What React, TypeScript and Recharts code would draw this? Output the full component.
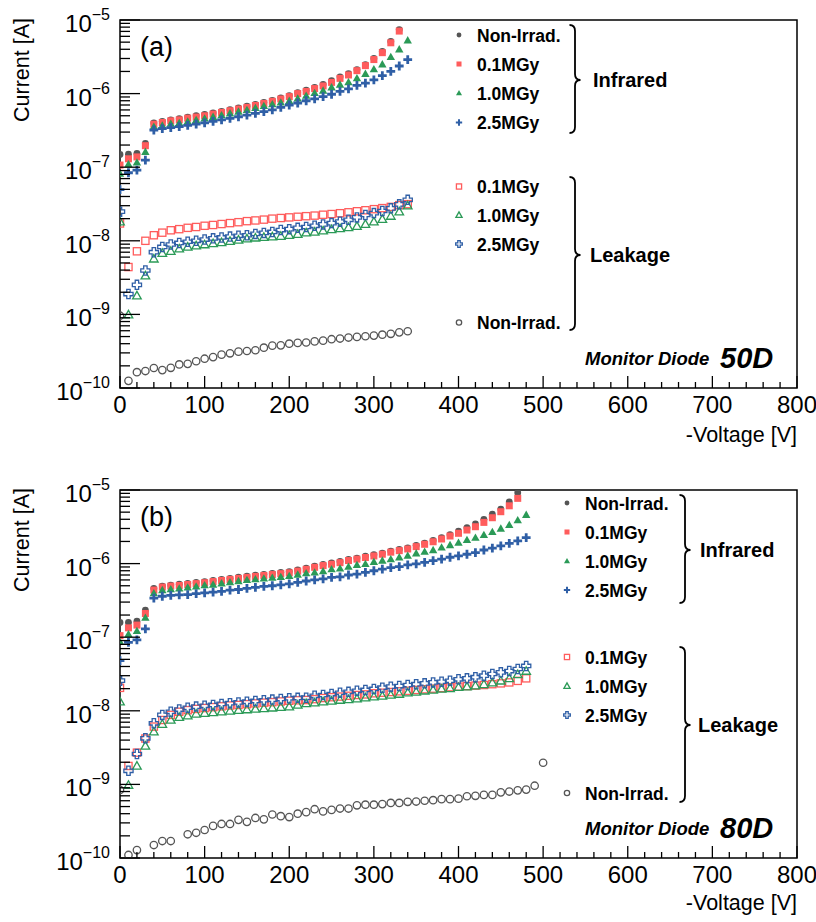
import React from 'react';
import { ScatterChart, Scatter, XAxis, YAxis, ReferenceArea } from 'recharts';

// ---------- voltages ----------
const V_0_330 = [0,10,20,30,40,50,60,70,80,90,100,110,120,130,140,150,160,170,180,190,200,210,220,230,240,250,260,270,280,290,300,310,320,330];
const V_0_340 = [0,10,20,30,40,50,60,70,80,90,100,110,120,130,140,150,160,170,180,190,200,210,220,230,240,250,260,270,280,290,300,310,320,330,340];
const V_0_470 = [0,10,20,30,40,50,60,70,80,90,100,110,120,130,140,150,160,170,180,190,200,210,220,230,240,250,260,270,280,290,300,310,320,330,340,350,360,370,380,390,400,410,420,430,440,450,460,470];
const V_0_480 = [0,10,20,30,40,50,60,70,80,90,100,110,120,130,140,150,160,170,180,190,200,210,220,230,240,250,260,270,280,290,300,310,320,330,340,350,360,370,380,390,400,410,420,430,440,450,460,470,480];
const V_B_LEAK_NONIRR = [0,10,20,40,50,60,80,90,100,110,120,130,140,150,160,170,180,190,200,210,220,230,240,250,260,270,280,290,300,310,320,330,340,350,360,370,380,390,400,410,420,430,440,450,460,470,480,490,500];

// ---------- (a) 50D ----------
const A_IR_NONIRR = [
  1.49e-7,1.5e-7,1.54e-7,2.1e-7,4.0e-7,4.2e-7,4.4e-7,4.55e-7,4.8e-7,5.0e-7,
  5.2e-7,5.45e-7,5.75e-7,6.05e-7,6.4e-7,6.75e-7,7.15e-7,7.6e-7,8.1e-7,8.75e-7,
  9.4e-7,1.03e-6,1.11e-6,1.21e-6,1.33e-6,1.5e-6,1.69e-6,1.86e-6,2.12e-6,2.48e-6,
  3.0e-6,3.75e-6,5.1e-6,7.4e-6];
const A_IR_01 = [
  1.07e-7,1.3e-7,1.38e-7,1.96e-7,3.84e-7,4.05e-7,4.27e-7,4.4e-7,4.64e-7,4.8e-7,
  5.0e-7,5.27e-7,5.55e-7,5.85e-7,6.17e-7,6.5e-7,6.9e-7,7.35e-7,7.85e-7,8.45e-7,
  9.1e-7,1.0e-6,1.07e-6,1.17e-6,1.27e-6,1.42e-6,1.61e-6,1.79e-6,2.05e-6,2.4e-6,
  2.9e-6,3.6e-6,4.9e-6,7.07e-6];
const A_IR_10 = [
  8.2e-8,1.1e-7,1.16e-7,1.62e-7,3.55e-7,3.7e-7,3.9e-7,4.0e-7,4.2e-7,4.4e-7,
  4.6e-7,4.85e-7,5.1e-7,5.4e-7,5.7e-7,6.0e-7,6.4e-7,6.8e-7,7.2e-7,7.6e-7,
  8.0e-7,8.6e-7,9.4e-7,1.02e-6,1.1e-6,1.22e-6,1.33e-6,1.43e-6,1.62e-6,1.86e-6,
  2.15e-6,2.5e-6,3.15e-6,4.0e-6,5.3e-6];
const A_IR_25 = [
  4.95e-8,8.4e-8,9.1e-8,1.25e-7,3.2e-7,3.35e-7,3.45e-7,3.55e-7,3.7e-7,3.85e-7,
  4.0e-7,4.2e-7,4.4e-7,4.6e-7,4.85e-7,5.1e-7,5.4e-7,5.7e-7,6.0e-7,6.5e-7,
  7.0e-7,7.45e-7,8.0e-7,8.5e-7,9.1e-7,9.8e-7,1.07e-6,1.16e-6,1.29e-6,1.39e-6,
  1.54e-6,1.75e-6,2.0e-6,2.37e-6,2.9e-6];
const A_LK_01 = [
  1.72e-8,4.4e-9,7.2e-9,1.0e-8,1.19e-8,1.29e-8,1.39e-8,1.44e-8,1.5e-8,1.54e-8,
  1.6e-8,1.64e-8,1.69e-8,1.74e-8,1.79e-8,1.85e-8,1.89e-8,1.94e-8,2.0e-8,2.04e-8,
  2.08e-8,2.12e-8,2.16e-8,2.2e-8,2.26e-8,2.31e-8,2.37e-8,2.44e-8,2.52e-8,2.6e-8,
  2.69e-8,2.78e-8,2.89e-8,3.05e-8,3.15e-8];
const A_LK_10 = [
  1.82e-8,9.9e-10,1.8e-9,3.36e-9,5.7e-9,6.8e-9,7.25e-9,7.8e-9,8.25e-9,8.6e-9,
  8.9e-9,9.2e-9,9.5e-9,9.9e-9,1.03e-8,1.07e-8,1.1e-8,1.12e-8,1.14e-8,1.16e-8,
  1.19e-8,1.23e-8,1.29e-8,1.32e-8,1.37e-8,1.43e-8,1.47e-8,1.52e-8,1.58e-8,1.68e-8,
  1.82e-8,1.97e-8,2.17e-8,2.49e-8,3.0e-8];
const A_LK_25 = [
  2.49e-8,1.89e-9,2.52e-9,3.95e-9,7.0e-9,8.25e-9,8.9e-9,9.35e-9,9.7e-9,1.0e-8,
  1.04e-8,1.08e-8,1.11e-8,1.14e-8,1.17e-8,1.19e-8,1.24e-8,1.28e-8,1.32e-8,1.4e-8,
  1.44e-8,1.5e-8,1.54e-8,1.6e-8,1.67e-8,1.74e-8,1.82e-8,1.93e-8,2.08e-8,2.24e-8,
  2.38e-8,2.54e-8,2.76e-8,3.13e-8,3.6e-8];
const A_LK_NONIRR = [
  9.6e-10,1.25e-10,1.64e-10,1.7e-10,1.87e-10,1.75e-10,1.88e-10,2.09e-10,2.13e-10,2.31e-10,
  2.5e-10,2.63e-10,2.84e-10,2.96e-10,3.12e-10,3.18e-10,3.26e-10,3.53e-10,3.76e-10,3.8e-10,
  4.0e-10,4.1e-10,4.15e-10,4.3e-10,4.4e-10,4.6e-10,4.7e-10,4.85e-10,4.95e-10,5.05e-10,
  5.15e-10,5.3e-10,5.45e-10,5.7e-10,5.9e-10];

// ---------- (b) 80D ----------
const B_IR_NONIRR = [
  1.59e-7,1.59e-7,1.65e-7,2.34e-7,4.6e-7,4.95e-7,5.1e-7,5.25e-7,5.4e-7,5.55e-7,
  5.7e-7,5.9e-7,6.1e-7,6.3e-7,6.55e-7,6.75e-7,6.95e-7,7.15e-7,7.35e-7,7.6e-7,
  7.8e-7,8.2e-7,8.7e-7,9.2e-7,9.75e-7,1.02e-6,1.07e-6,1.14e-6,1.19e-6,1.26e-6,
  1.32e-6,1.39e-6,1.48e-6,1.56e-6,1.64e-6,1.77e-6,1.9e-6,2.06e-6,2.25e-6,2.47e-6,
  2.77e-6,3.07e-6,3.45e-6,4.0e-6,4.7e-6,5.5e-6,6.9e-6,9.2e-6];
const B_IR_01 = [
  1.05e-7,1.34e-7,1.46e-7,2.1e-7,4.37e-7,4.8e-7,4.95e-7,5.05e-7,5.2e-7,5.35e-7,
  5.5e-7,5.7e-7,5.9e-7,6.1e-7,6.3e-7,6.5e-7,6.7e-7,6.9e-7,7.1e-7,7.3e-7,
  7.5e-7,7.9e-7,8.36e-7,8.9e-7,9.4e-7,9.8e-7,1.03e-6,1.1e-6,1.15e-6,1.21e-6,
  1.27e-6,1.34e-6,1.43e-6,1.5e-6,1.58e-6,1.7e-6,1.83e-6,1.98e-6,2.16e-6,2.37e-6,
  2.58e-6,2.86e-6,3.17e-6,3.63e-6,4.2e-6,5.07e-6,6.1e-6,7.7e-6];
const B_IR_10 = [
  8.7e-8,1.1e-7,1.22e-7,1.84e-7,3.97e-7,4.37e-7,4.5e-7,4.6e-7,4.75e-7,4.9e-7,
  5.1e-7,5.2e-7,5.4e-7,5.6e-7,5.8e-7,6.0e-7,6.15e-7,6.3e-7,6.45e-7,6.6e-7,
  6.8e-7,7.1e-7,7.4e-7,7.6e-7,7.9e-7,8.4e-7,8.6e-7,9.1e-7,9.6e-7,9.9e-7,
  1.06e-6,1.1e-6,1.15e-6,1.22e-6,1.28e-6,1.38e-6,1.45e-6,1.53e-6,1.66e-6,1.79e-6,
  1.93e-6,2.1e-6,2.25e-6,2.45e-6,2.7e-6,3.0e-6,3.35e-6,3.9e-6,4.6e-6];
const B_IR_25 = [
  4.8e-8,8.5e-8,9.2e-8,1.3e-7,3.4e-7,3.6e-7,3.7e-7,3.75e-7,3.8e-7,3.9e-7,
  4.0e-7,4.1e-7,4.2e-7,4.35e-7,4.45e-7,4.6e-7,4.75e-7,4.9e-7,5.0e-7,5.15e-7,
  5.3e-7,5.55e-7,5.8e-7,6.0e-7,6.2e-7,6.5e-7,6.6e-7,7.0e-7,7.2e-7,7.6e-7,
  8.0e-7,8.4e-7,8.8e-7,9.1e-7,9.6e-7,9.9e-7,1.04e-6,1.1e-6,1.15e-6,1.22e-6,
  1.27e-6,1.34e-6,1.41e-6,1.53e-6,1.62e-6,1.74e-6,1.88e-6,2.04e-6,2.25e-6];
const B_LK_01 = [
  2.05e-8,1.78e-9,2.7e-9,4.2e-9,6.1e-9,7.5e-9,8.8e-9,9.7e-9,1.02e-8,1.06e-8,
  1.09e-8,1.12e-8,1.15e-8,1.18e-8,1.2e-8,1.23e-8,1.26e-8,1.29e-8,1.31e-8,1.34e-8,
  1.37e-8,1.39e-8,1.4e-8,1.44e-8,1.49e-8,1.53e-8,1.56e-8,1.6e-8,1.64e-8,1.67e-8,
  1.73e-8,1.76e-8,1.8e-8,1.84e-8,1.87e-8,1.92e-8,1.96e-8,2.0e-8,2.04e-8,2.09e-8,
  2.13e-8,2.17e-8,2.2e-8,2.24e-8,2.3e-8,2.36e-8,2.43e-8,2.55e-8,2.76e-8];
const B_LK_10 = [
  1.33e-8,9.8e-10,1.78e-9,3.33e-9,5.2e-9,6.6e-9,7.5e-9,8.2e-9,8.6e-9,9.1e-9,
  9.3e-9,9.5e-9,9.75e-9,1.0e-8,1.02e-8,1.04e-8,1.06e-8,1.08e-8,1.1e-8,1.12e-8,
  1.14e-8,1.2e-8,1.26e-8,1.29e-8,1.33e-8,1.36e-8,1.4e-8,1.43e-8,1.46e-8,1.51e-8,
  1.56e-8,1.59e-8,1.64e-8,1.69e-8,1.76e-8,1.81e-8,1.87e-8,1.92e-8,1.98e-8,2.02e-8,
  2.09e-8,2.13e-8,2.2e-8,2.29e-8,2.41e-8,2.56e-8,2.76e-8,3.13e-8,3.47e-8];
const B_LK_25 = [
  2.57e-8,1.53e-9,2.59e-9,4.23e-9,6.76e-9,8.8e-9,9.7e-9,1.04e-8,1.1e-8,1.14e-8,
  1.17e-8,1.2e-8,1.24e-8,1.27e-8,1.3e-8,1.33e-8,1.36e-8,1.39e-8,1.42e-8,1.45e-8,
  1.48e-8,1.5e-8,1.51e-8,1.6e-8,1.64e-8,1.69e-8,1.76e-8,1.81e-8,1.87e-8,1.92e-8,
  1.98e-8,2.06e-8,2.13e-8,2.17e-8,2.24e-8,2.3e-8,2.36e-8,2.43e-8,2.48e-8,2.56e-8,
  2.68e-8,2.76e-8,2.86e-8,3.0e-8,3.16e-8,3.33e-8,3.47e-8,3.7e-8,4.07e-8];
const B_LK_NONIRR = [
  8.4e-10,1.1e-10,1.28e-10,1.5e-10,1.7e-10,1.7e-10,
  2.1e-10,2.2e-10,2.4e-10,2.73e-10,2.9e-10,2.9e-10,3.3e-10,3.1e-10,3.5e-10,3.35e-10,
  3.9e-10,3.7e-10,3.6e-10,4.0e-10,4.2e-10,4.6e-10,4.3e-10,4.5e-10,4.7e-10,4.7e-10,
  5.2e-10,5.3e-10,5.3e-10,5.4e-10,5.6e-10,5.6e-10,5.8e-10,5.85e-10,6.0e-10,6.1e-10,
  6.3e-10,6.3e-10,6.4e-10,6.9e-10,7.0e-10,7.2e-10,7.2e-10,7.8e-10,8.0e-10,8.3e-10,
  8.5e-10,9.6e-10,1.97e-9];

// ---------- axes ----------
const X_TICKS = [0,20,40,60,80,100,120,140,160,180,200,220,240,260,280,300,320,340,360,380,400,420,440,460,480,500,520,540,560,580,600,620,640,660,680,700,720,740,760,780,800];
const Y_TICKS = [
  1e-10,2e-10,3e-10,4e-10,5e-10,6e-10,7e-10,8e-10,9e-10,
  1e-9,2e-9,3e-9,4e-9,5e-9,6e-9,7e-9,8e-9,9e-9,
  1e-8,2e-8,3e-8,4e-8,5e-8,6e-8,7e-8,8e-8,9e-8,
  1e-7,2e-7,3e-7,4e-7,5e-7,6e-7,7e-7,8e-7,9e-7,
  1e-6,2e-6,3e-6,4e-6,5e-6,6e-6,7e-6,8e-6,9e-6,1e-5];
const LEGEND_IR = ['Non-Irrad.', '0.1MGy', '1.0MGy', '2.5MGy'];
const LEGEND_LK = ['0.1MGy', '1.0MGy', '2.5MGy', 'Non-Irrad.'];

const GREY = '#555555';
const RED = '#ff5c5c';
const GREEN = '#2b9a57';
const BLUE = '#2f5fa6';
const FONT = '"Liberation Sans", Arial, Helvetica, sans-serif';

const pts = (vs: number[], is: number[]) => vs.map((v, i) => ({ x: v, y: is[i] }));

type Kind = 'dot' | 'sq' | 'tri' | 'plus' | 'osq' | 'otri' | 'oplus' | 'ocirc';

function Marker({ cx, cy, kind, color, s = 1 }: { cx: number; cy: number; kind: Kind; color: string; s?: number }) {
  if (cx == null || cy == null || isNaN(cx) || isNaN(cy)) return null;
  switch (kind) {
    case 'dot':
      return <circle cx={cx} cy={cy} r={3.4 * s} fill={color} />;
    case 'sq': {
      const h = 3.5 * s;
      return <rect x={cx - h} y={cy - h} width={2 * h} height={2 * h} fill={color} />;
    }
    case 'tri': {
      const h = 4.2 * s;
      return <polygon points={`${cx},${cy - h} ${cx + h},${cy + h * 0.75} ${cx - h},${cy + h * 0.75}`} fill={color} />;
    }
    case 'plus': {
      const a = 4.4 * s, t = 1.4 * s;
      return <path d={`M${cx - t},${cy - a}H${cx + t}V${cy - t}H${cx + a}V${cy + t}H${cx + t}V${cy + a}H${cx - t}V${cy + t}H${cx - a}V${cy - t}H${cx - t}Z`} fill={color} />;
    }
    case 'osq': {
      const h = 3.6 * s;
      return <rect x={cx - h} y={cy - h} width={2 * h} height={2 * h} fill="none" stroke={color} strokeWidth={1.3} />;
    }
    case 'otri': {
      const h = 4.3 * s;
      return <polygon points={`${cx},${cy - h} ${cx + h},${cy + h * 0.75} ${cx - h},${cy + h * 0.75}`} fill="none" stroke={color} strokeWidth={1.3} />;
    }
    case 'oplus': {
      const a = 4.6 * s, t = 1.7 * s;
      return <path d={`M${cx - t},${cy - a}H${cx + t}V${cy - t}H${cx + a}V${cy + t}H${cx + t}V${cy + a}H${cx - t}V${cy + t}H${cx - a}V${cy - t}H${cx - t}Z`} fill="none" stroke={color} strokeWidth={1.3} />;
    }
    case 'ocirc':
      return <circle cx={cx} cy={cy} r={3.7 * s} fill="none" stroke={color} strokeWidth={1.3} />;
  }
  return null;
}

type Series = { name: string; data: { x: number; y: number }[]; kind: Kind; color: string };

const IR_KINDS: [Kind, string][] = [['dot', GREY], ['sq', RED], ['tri', GREEN], ['plus', BLUE]];
const LK_KINDS: [Kind, string][] = [['osq', RED], ['otri', GREEN], ['oplus', BLUE], ['ocirc', GREY]];

const SERIES_A: Series[] = [
  { name: 'ir0', data: pts(V_0_330, A_IR_NONIRR), kind: 'dot', color: GREY },
  { name: 'ir1', data: pts(V_0_330, A_IR_01), kind: 'sq', color: RED },
  { name: 'ir2', data: pts(V_0_340, A_IR_10), kind: 'tri', color: GREEN },
  { name: 'ir3', data: pts(V_0_340, A_IR_25), kind: 'plus', color: BLUE },
  { name: 'lk1', data: pts(V_0_340, A_LK_01), kind: 'osq', color: RED },
  { name: 'lk2', data: pts(V_0_340, A_LK_10), kind: 'otri', color: GREEN },
  { name: 'lk3', data: pts(V_0_340, A_LK_25), kind: 'oplus', color: BLUE },
  { name: 'lk0', data: pts(V_0_340, A_LK_NONIRR), kind: 'ocirc', color: GREY },
];
const SERIES_B: Series[] = [
  { name: 'ir0', data: pts(V_0_470, B_IR_NONIRR), kind: 'dot', color: GREY },
  { name: 'ir1', data: pts(V_0_470, B_IR_01), kind: 'sq', color: RED },
  { name: 'ir2', data: pts(V_0_480, B_IR_10), kind: 'tri', color: GREEN },
  { name: 'ir3', data: pts(V_0_480, B_IR_25), kind: 'plus', color: BLUE },
  { name: 'lk1', data: pts(V_0_480, B_LK_01), kind: 'osq', color: RED },
  { name: 'lk2', data: pts(V_0_480, B_LK_10), kind: 'otri', color: GREEN },
  { name: 'lk3', data: pts(V_0_480, B_LK_25), kind: 'oplus', color: BLUE },
  { name: 'lk0', data: pts(V_B_LEAK_NONIRR, B_LK_NONIRR), kind: 'ocirc', color: GREY },
];

const W = 816;
const H = 461;
const PL = 120;
const PR = 797;
const PLOT_H = 368;
const XAXIS_H = 40;

function brace(x: number, y1: number, y2: number, ym: number) {
  const e = 5.5, r = 6;
  return `M${x - e},${y1} Q${x},${y1} ${x},${y1 + r} L${x},${ym - r} Q${x},${ym} ${x + e},${ym} Q${x},${ym} ${x},${ym + r} L${x},${y2 - r} Q${x},${y2} ${x - e},${y2}`;
}

type Layout = {
  mt: number;
  yTitleY: number;
  tag: string; tagY: number;
  xTitleY: number;
  legMx: number; legTx: number; rows: number[];
  brX: number; irB: [number, number, number]; lkB: [number, number, number];
  irTx: number; lkTx: number;
  diode: string;
  diodeY: number;
};

function Panel({ top, series, L }: { top: number; series: Series[]; L: Layout }) {
  const plotBottom = L.mt + PLOT_H;
  const mb = H - L.mt - PLOT_H - XAXIS_H;
  const xTick = (p: any) => {
    const v = p.payload.value;
    const x = p.x;
    const major = v % 100 === 0;
    return (
      <g>
        <line x1={x} x2={x} y1={plotBottom} y2={plotBottom - (major ? 12 : 6)} stroke="#000" strokeWidth={1.3} />
        {major && (
          <text x={x} y={plotBottom + 25} textAnchor="middle" fontSize={24} fontFamily={FONT} fill="#000">{v}</text>
        )}
      </g>
    );
  };
  const yTick = (p: any) => {
    const v = p.payload.value;
    const y = p.y;
    const lg = Math.log10(v);
    const major = Math.abs(lg - Math.round(lg)) < 1e-6;
    return (
      <g>
        <line x1={PL} x2={PL + (major ? 20 : 10)} y1={y} y2={y} stroke="#000" strokeWidth={1.3} />
        {major && (
          <text x={PL - 10} y={y + 12} textAnchor="end" fontFamily={FONT} fill="#000">
            <tspan fontSize={24}>10</tspan>
            <tspan fontSize={16} dy={-12}>{'\u2212' + Math.abs(Math.round(lg))}</tspan>
          </text>
        )}
      </g>
    );
  };
  const bold = { fontFamily: FONT, fontWeight: 700 as const, fill: '#000' };
  return (
    <div style={{ position: 'absolute', left: 0, top, width: W, height: H }}>
      <ScatterChart width={W} height={H} margin={{ top: L.mt, right: W - PR, left: 0, bottom: mb }}>
        <XAxis type="number" dataKey="x" domain={[0, 800]} ticks={X_TICKS} interval={0} tick={xTick}
          tickLine={false} axisLine={false} height={XAXIS_H} tickSize={0} tickMargin={0} allowDataOverflow />
        <YAxis type="number" dataKey="y" scale="log" domain={[1e-10, 1e-5]} ticks={Y_TICKS} interval={0} tick={yTick}
          tickLine={false} axisLine={false} width={PL} tickSize={0} tickMargin={0} allowDataOverflow />
        <ReferenceArea x1={0} x2={800} y1={1e-10} y2={1e-5} fill="none" fillOpacity={0} stroke="#000" strokeWidth={1.5} ifOverflow="visible" />
        {series.map((s) => (
          <Scatter key={s.name} name={s.name} data={s.data} isAnimationActive={false}
            shape={(p: any) => <Marker cx={p.cx} cy={p.cy} kind={s.kind} color={s.color} />} />
        ))}
      </ScatterChart>
      <svg width={W} height={H} style={{ position: 'absolute', left: 0, top: 0, pointerEvents: 'none' }}>
        <text x={29} y={L.yTitleY} textAnchor="end" transform={`rotate(-90 29 ${L.yTitleY})`} fontSize={21.5} fontFamily={FONT} fill="#000">Current [A]</text>
        <text x={140} y={L.tagY} fontSize={27} fontFamily={FONT} fill="#000">{L.tag}</text>
        <text x={PR} y={L.xTitleY} textAnchor="end" fontSize={21.5} fontFamily={FONT} fill="#000">-Voltage [V]</text>
        {LEGEND_IR.map((t, i) => (
          <g key={'ir' + i}>
            <Marker cx={L.legMx} cy={L.rows[i]} kind={IR_KINDS[i][0]} color={IR_KINDS[i][1]} s={0.72} />
            <text x={L.legTx} y={L.rows[i] + 6.5} fontSize={17.5} {...bold}>{t}</text>
          </g>
        ))}
        {LEGEND_LK.map((t, i) => (
          <g key={'lk' + i}>
            <Marker cx={L.legMx} cy={L.rows[i + 4]} kind={LK_KINDS[i][0]} color={LK_KINDS[i][1]} s={0.72} />
            <text x={L.legTx} y={L.rows[i + 4] + 6.5} fontSize={17.5} {...bold}>{t}</text>
          </g>
        ))}
        <path d={brace(L.brX, L.irB[0], L.irB[1], L.irB[2])} fill="none" stroke="#000" strokeWidth={1.8} />
        <path d={brace(L.brX, L.lkB[0], L.lkB[1], L.lkB[2])} fill="none" stroke="#000" strokeWidth={1.8} />
        <text x={L.irTx} y={L.irB[2] + 7} fontSize={20} {...bold}>Infrared</text>
        <text x={L.lkTx} y={L.lkB[2] + 7} fontSize={20} {...bold}>Leakage</text>
        <text x={585} y={L.diodeY + 6.5} fontSize={18.5} fontStyle="italic" {...bold}>Monitor Diode</text>
        <text x={720} y={L.diodeY + 10} fontSize={29} fontStyle="italic" {...bold}>{L.diode}</text>
      </svg>
    </div>
  );
}

const LAYOUT_A: Layout = {
  mt: 20, yTitleY: 18, tag: '(a)', tagY: 56, xTitleY: 442,
  legMx: 459, legTx: 477, rows: [35, 64, 93, 122.5, 186.5, 215, 244, 322.5],
  brX: 575, irB: [25, 133, 80], lkB: [177, 330, 255], irTx: 593, lkTx: 590,
  diode: '50D', diodeY: 358,
};
const LAYOUT_B: Layout = {
  mt: 29, yTitleY: 27, tag: '(b)', tagY: 65, xTitleY: 449,
  legMx: 567, legTx: 585, rows: [42, 71, 100, 129, 196, 225, 254, 332],
  brX: 685, irB: [34, 142, 89], lkB: [186, 341, 264], irTx: 700, lkTx: 698,
  diode: '80D', diodeY: 367,
};

export default function App() {
  return (
    <div style={{ position: 'absolute', left: 0, top: 0, width: W, height: 922, background: '#fff', overflow: 'hidden' }}>
      <Panel top={0} series={SERIES_A} L={LAYOUT_A} />
      <Panel top={H} series={SERIES_B} L={LAYOUT_B} />
    </div>
  );
}
